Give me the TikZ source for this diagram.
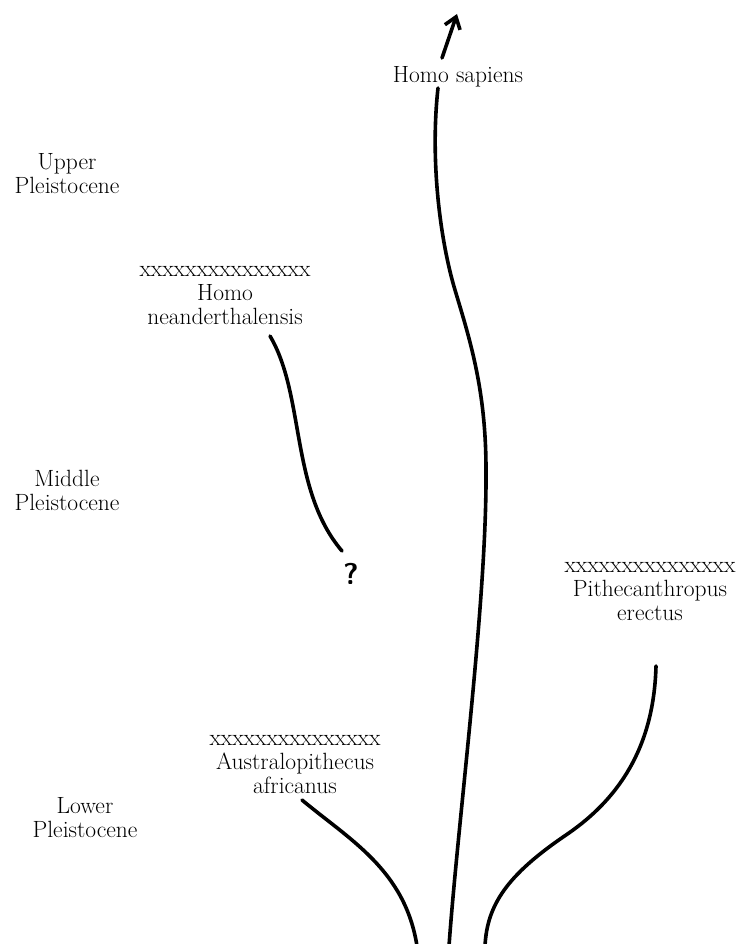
\documentclass[tikz,border=0pt]{standalone}
\usetikzlibrary{arrows.meta}
\begin{document}
\begin{tikzpicture}[x=1pt,y=-1pt,
  lbl/.style={font=\fontsize{23.5}{24}\selectfont, align=center, inner sep=0pt},
  branch/.style={line width=3.6pt, line cap=round, line join=round}]
\useasboundingbox (0,0) rectangle (746,944);
% period labels
\node[lbl] (up) at (67,174) {Upper\\Pleistocene};
\node[lbl] (mid) at (67,490) {Middle\\Pleistocene};
\node[lbl] (low) at (85,818) {Lower\\Pleistocene};
% species labels
\node[lbl] (sap) at (458,77) {Homo sapiens};
\node[lbl] (nea) at (225,296) {xxxxxxxxxxxxxxx\\Homo\\neanderthalensis};
\node[lbl] (pit) at (650,592) {xxxxxxxxxxxxxxx\\Pithecanthropus\\erectus};
\node[lbl] (aus) at (295,765) {xxxxxxxxxxxxxxx\\Australopithecus\\africanus};
\node[font=\sffamily\bfseries\fontsize{30}{30}\selectfont, inner sep=0pt] (q) at (351,574) {?};
% end points
\coordinate (base) at (449,946);
\coordinate (sapTop) at (438,88);
\coordinate (arrTail) at (442,58);
\coordinate (arrTip) at (457,14);
\coordinate (neaStart) at (270,336);
\coordinate (neaEnd) at (342,551);
\coordinate (pitStart) at (656,666);
\coordinate (pitEnd) at (485,946);
\coordinate (ausStart) at (302,800);
\coordinate (ausEnd) at (417,946);
% main stem
\draw[branch] (base) .. controls (458,820) and (487,600) .. (486,470)
  .. controls (486,390) and (470,340) .. (455,290)
  .. controls (440,240) and (430,160) .. (sapTop);
\draw[branch, -{Straight Barb[length=11pt,width=16pt]}] (arrTail) -- (arrTip);
% neanderthal
\draw[branch] (neaStart) .. controls (305,395) and (290,490) .. (neaEnd);
% pithecanthropus
\draw[branch] (pitStart) .. controls (654,740) and (625,795) .. (566,835)
  .. controls (507,875) and (487,905) .. (pitEnd);
% australopithecus
\draw[branch] (ausStart) .. controls (350,840) and (405,870) .. (ausEnd);
\end{tikzpicture}
\end{document}
